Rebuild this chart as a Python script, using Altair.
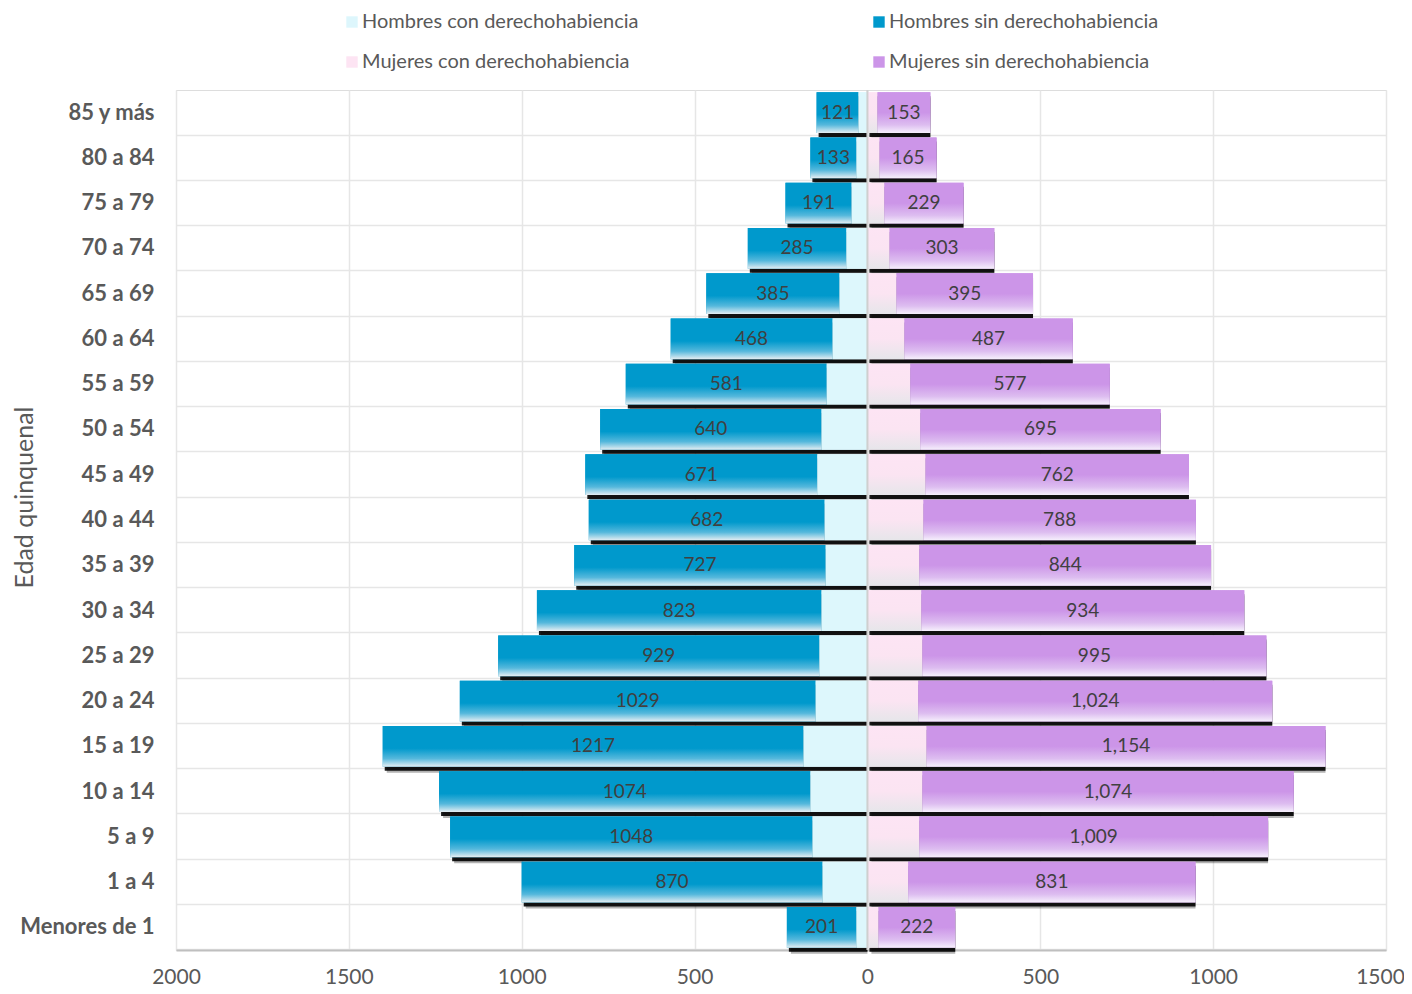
import altair as alt
import pandas as pd

edades = ["85 y más", "80 a 84", "75 a 79", "70 a 74", "65 a 69", "60 a 64",
          "55 a 59", "50 a 54", "45 a 49", "40 a 44", "35 a 39", "30 a 34",
          "25 a 29", "20 a 24", "15 a 19", "10 a 14", "5 a 9", "1 a 4",
          "Menores de 1"]
hombres_sin = [121, 133, 191, 285, 385, 468, 581, 640, 671, 682, 727, 823,
               929, 1029, 1217, 1074, 1048, 870, 201]
hombres_con = [26, 32, 46, 61, 81, 101, 118, 133, 145, 124, 121, 133,
               139, 150, 185, 165, 159, 130, 32]
mujeres_con = [29, 35, 49, 64, 84, 107, 124, 153, 168, 162, 150, 156,
               159, 147, 171, 159, 150, 118, 32]
mujeres_sin = [153, 165, 229, 303, 395, 487, 577, 695, 762, 788, 844, 934,
               995, 1024, 1154, 1074, 1009, 831, 222]

series = ["Hombres con derechohabiencia", "Hombres sin derechohabiencia",
          "Mujeres con derechohabiencia", "Mujeres sin derechohabiencia"]
colores = ["#DDF6FC", "#0099CC", "#FDE4F3", "#CC95E8"]
ticks_x = [-2000, -1500, -1000, -500, 0, 500, 1000, 1500]

rows = []
sombras = []
for i, e in enumerate(edades):
    hc, hs, mc, ms = hombres_con[i], hombres_sin[i], mujeres_con[i], mujeres_sin[i]
    rows.append(dict(edad=e, serie=series[0], x1=-hc, x2=0, xm=-hc / 2, etiqueta=""))
    rows.append(dict(edad=e, serie=series[1], x1=-(hc + hs), x2=-hc, xm=-(hc + hs / 2), etiqueta=f"{hs}"))
    rows.append(dict(edad=e, serie=series[2], x1=0, x2=mc, xm=mc / 2, etiqueta=""))
    rows.append(dict(edad=e, serie=series[3], x1=mc, x2=mc + ms, xm=mc + ms / 2, etiqueta=f"{ms:,}"))
    sombras.append(dict(edad=e, x1=-(hc + hs), x2=0))
    sombras.append(dict(edad=e, x1=0, x2=mc + ms))
df = pd.DataFrame(rows)
ds = pd.DataFrame(sombras)

FONT = "Lato"
GRIS = "#595959"

X = alt.X("x1:Q",
          scale=alt.Scale(domain=[-2000, 1500], nice=False, zero=False),
          axis=alt.Axis(values=ticks_x, labelExpr="abs(datum.value)", title=None,
                        labelFont=FONT, labelFontSize=21, labelColor=GRIS,
                        labelFlush=False, labelOverlap=False, labelBound=False,
                        labelOffset=alt.condition("datum.value == 1500", alt.value(-6), alt.value(0)),
                        labelPadding=16, ticks=False, domainColor="#bfbfbf",
                        domainWidth=2, grid=True, gridColor="#e6e6e6", gridWidth=1.5))
X2 = alt.X2("x2:Q")
Y = alt.Y("edad:N", sort=edades,
          scale=alt.Scale(paddingInner=0.1, paddingOuter=0.05),
          axis=alt.Axis(title="Edad quinquenal", labelFont=FONT, labelFontWeight="bold",
                        labelFontSize=22, labelColor=GRIS, labelPadding=22, ticks=False,
                        domain=False, grid=True, gridColor="#e6e6e6", gridWidth=1.5,
                        bandPosition=1.05,
                        titleFont=FONT, titleFontSize=25, titleFontWeight="normal",
                        titleColor=GRIS, titleX=-152, titleY=407, titleAngle=270,
                        titleAlign="center", titleBaseline="middle"))


def grad(stops):
    return {"gradient": "linear", "x1": 0, "y1": 0, "x2": 0, "y2": 1,
            "stops": [{"offset": o, "color": c} for o, c in stops]}


sombra1 = alt.Chart(ds).mark_bar(color="#000000", opacity=0.3, xOffset=4, yOffset=6).encode(x=X, x2=X2, y=Y)
sombra2 = alt.Chart(ds).mark_bar(color="#000000", opacity=0.9, xOffset=2, yOffset=4).encode(x=X, x2=X2, y=Y)

base = alt.Chart(df).mark_bar().encode(
    x=X, x2=X2, y=Y,
    color=alt.Color("serie:N", scale=alt.Scale(domain=series, range=colores),
                    legend=alt.Legend(title=None, orient="none", legendX=166, legendY=-78,
                                      direction="horizontal", columns=2,
                                      columnPadding=230, rowPadding=20,
                                      symbolType="square", symbolSize=130,
                                      symbolStrokeWidth=0, labelFont=FONT,
                                      labelFontSize=20, labelColor=GRIS, labelLimit=0,
                                      labelOffset=0, padding=0))
)

g_hs = alt.Chart(df).transform_filter(alt.datum.serie == series[1]).mark_bar(
    color=grad([(0, "#0099CC"), (0.55, "#0099CC"), (0.8, "#55B8DC"), (1, "#E6EEF2")])
).encode(x=X, x2=X2, y=Y)
g_hc = alt.Chart(df).transform_filter(alt.datum.serie == series[0]).mark_bar(
    color="#DDF7FC"
).encode(x=X, x2=X2, y=Y)
g_mc = alt.Chart(df).transform_filter(alt.datum.serie == series[2]).mark_bar(
    color=grad([(0, "#FDE4F4"), (0.5, "#FBE4F2"), (1, "#E6E6EA")])
).encode(x=X, x2=X2, y=Y)
g_ms = alt.Chart(df).transform_filter(alt.datum.serie == series[3]).mark_bar(
    color=grad([(0, "#CC95E8"), (0.5, "#CC95E8"), (0.8, "#DDBDF0"), (1, "#F6F0FC")])
).encode(x=X, x2=X2, y=Y)

cero = alt.Chart(pd.DataFrame({"x1": [0]})).mark_rule(color="#cfcfcf", strokeWidth=2).encode(x=X)

textos = alt.Chart(df).transform_filter(alt.datum.etiqueta != "").mark_text(
    font=FONT, fontSize=19, color="#404040", align="center", baseline="middle"
).encode(x=alt.X("xm:Q"), y=Y, text="etiqueta:N")

chart = alt.layer(sombra1, sombra2, base, g_hs, g_hc, g_mc, g_ms, cero, textos).properties(
    width=1210, height=860,
    autosize=alt.AutoSizeParams(type="none"),
    padding={"left": 168, "top": 82, "right": 18, "bottom": 36},
).configure_view(stroke="#bfbfbf", strokeWidth=2).configure(background="white")

chart.save("out.html", embed_options={"renderer": "svg", "actions": False})
